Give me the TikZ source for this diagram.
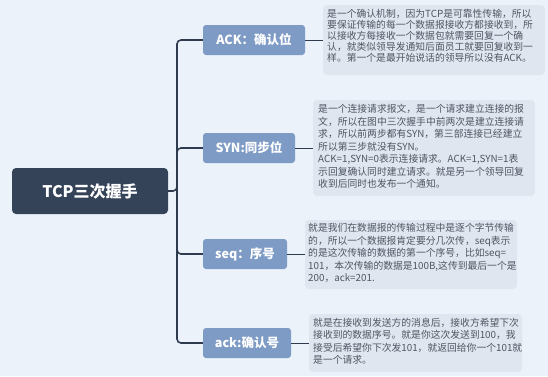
\documentclass[tikz,border=0pt]{standalone}
\usepackage{fontspec}
\setmainfont{Noto Sans CJK SC}
\definecolor{bgc}{HTML}{EBF2FA}
\definecolor{rootc}{HTML}{354359}
\definecolor{labc}{HTML}{7E9BC5}
\definecolor{notec}{HTML}{DFE6EF}
\definecolor{notetxt}{HTML}{4E5663}
\definecolor{linec}{HTML}{2E3A4E}
\begin{document}
\begin{tikzpicture}[x=1pt,y=-1pt,
  rootbox/.style={fill=rootc,rounded corners=4pt,text=white,font=\fontsize{16}{18}\selectfont\bfseries,inner sep=0pt},
  labbox/.style={fill=labc,rounded corners=3pt,text=white,font=\fontsize{12.5}{14}\selectfont\bfseries,inner sep=0pt},
  notebox/.style={fill=notec,rounded corners=4pt},
  notetext/.style={text=notetxt,align=left,inner sep=0pt,anchor=north west},
  trunk/.style={draw=linec,line width=1.6pt,rounded corners=4pt},
  twig/.style={draw=linec,line width=1pt}]
\fill[bgc] (0,0) rectangle (548,376);
\useasboundingbox (0,0) rectangle (548,376);
% root
\node[rootbox,minimum width=156pt,minimum height=46pt] (root) at (90,191) {TCP三次握手};
% labels
\node[labbox,minimum width=102pt,minimum height=30pt] (l1) at (254,40) {ACK：确认位};
\node[labbox,minimum width=92pt,minimum height=30pt] (l2) at (249,148) {SYN:同步位};
\node[labbox,minimum width=84pt,minimum height=30pt] (l3) at (245,254) {seq：序号};
\node[labbox,minimum width=88pt,minimum height=30pt] (l4) at (247,343) {ack:确认号};
% notes
\path[notebox] (323,5) rectangle (545,75);
\node[inner sep=0pt,minimum width=0pt] (n1) at (323,42) {};
\node[notetext,font=\fontsize{9.8}{11}\selectfont] at (327,9) {是一个确认机制，因为TCP是可靠性传输，所以\\要保证传输的每一个数据报接收方都接收到，所\\以接收方每接收一个数据包就需要回复一个确\\认，就类似领导发通知后面员工就要回复收到一\\样。第一个是最开始说话的领导所以没有ACK。};
\path[notebox] (313,100) rectangle (535,196);
\node[inner sep=0pt] (n2) at (313,148) {};
\node[notetext,font=\fontsize{9.8}{12.5}\selectfont] at (318,104) {是一个连接请求报文，是一个请求建立连接的报\\文，所以在图中三次握手中前两次是建立连接请\\求，所以前两步都有SYN，第三部连接已经建立\\所以第三步就没有SYN。\\ACK=1,SYN=0表示连接请求。ACK=1,SYN=1表\\示回复确认同时建立请求。就是另一个领导回复\\收到后同时也发布一个通知。};
\path[notebox] (305,220) rectangle (517,289);
\node[inner sep=0pt] (n3) at (305,254) {};
\node[notetext,font=\fontsize{9.8}{12.5}\selectfont] at (308,223) {就是我们在数据报的传输过程中是逐个字节传输\\的，所以一个数据报肯定要分几次传，seq表示\\的是这次传输的数据的第一个序号，比如seq=\\101，本次传输的数据是100B,这传到最后一个是\\200，ack=201.};
\path[notebox] (309,314) rectangle (522,372);
\node[inner sep=0pt] (n4) at (309,344) {};
\node[notetext,font=\fontsize{9.8}{12.4}\selectfont] at (313,318) {就是在接收到发送方的消息后，接收方希望下次\\接收到的数据序号。就是你这次发送到100，我\\接受后希望你下次发101，就返回给你一个101就\\是一个请求。};
% connectors
\coordinate (tr) at (177,191);
\draw[trunk] (root.east) -- (tr) |- (l1.west);
\draw[trunk] (tr) |- (l2.west);
\draw[trunk] (tr) |- (l3.west);
\draw[trunk] (tr) |- (l4.west);
\draw[twig] (l1.east) -- (l1.east -| n1);
\draw[twig] (l2.east) -- (l2.east -| n2);
\draw[twig] (l3.east) -- (l3.east -| n3);
\draw[twig] (l4.east) -- (l4.east -| n4);
\end{tikzpicture}
\end{document}
